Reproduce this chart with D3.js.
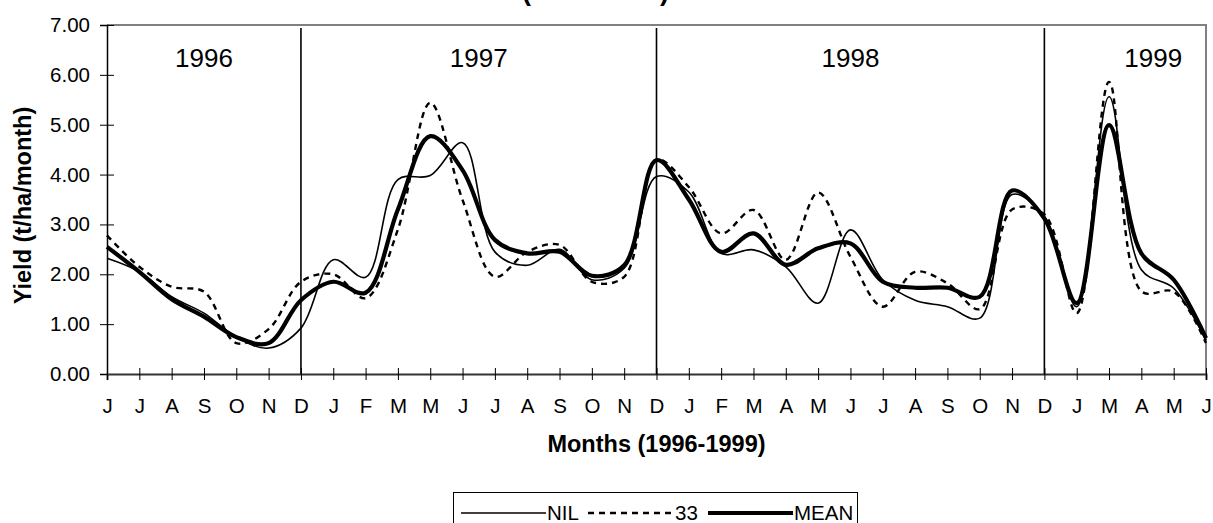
<!DOCTYPE html>
<html>
<head>
<meta charset="utf-8">
<script src="https://cdn.jsdelivr.net/npm/d3@7"></script>
<style>
  html, body { margin: 0; padding: 0; background: #fff; }
  svg { display: block; font-family: Arial, "Liberation Sans", sans-serif; }
</style>
</head>
<body>
<svg id="chart" width="1213" height="523"></svg>
<script>
// Month labels, June 1996 to June 1999
const months = ["J","J","A","S","O","N","D","J","F","M","M","J","J","A","S","O","N","D",
                "J","F","M","A","M","J","J","A","S","O","N","D","J","M","A","M","J"];

// Monthly yield (t/ha/month)
const nil = [2.32,2.05,1.55,1.22,0.74,0.52,0.92,2.29,1.94,3.90,3.98,4.64,2.45,2.18,2.50,1.89,2.12,3.96,
             3.65,2.42,2.49,2.15,1.42,2.89,1.89,1.48,1.35,1.12,3.60,3.15,1.35,5.56,2.09,1.72,0.68];
const t33 = [2.78,2.15,1.75,1.65,0.62,0.90,1.85,2.00,1.52,2.90,5.44,3.49,1.95,2.45,2.59,1.85,1.95,4.30,
             3.75,2.82,3.29,2.29,3.64,2.35,1.35,2.05,1.82,1.30,3.30,3.20,1.22,5.86,1.66,1.65,0.62];
const mean = [2.55,2.05,1.50,1.15,0.74,0.62,1.48,1.85,1.63,3.30,4.77,4.09,2.69,2.42,2.45,1.97,2.18,4.29,
              3.50,2.45,2.82,2.19,2.52,2.62,1.85,1.73,1.73,1.55,3.68,3.12,1.42,4.99,2.42,1.89,0.72];

// Year bands: label and the month index where each band ends (December)
const years = ["1996","1997","1998","1999"];
const yearEnds = [6, 17, 29, 34];
const yTicks = [0,1,2,3,4,5,6,7];

const svg = d3.select("#chart");
const L = 107, R = 1206, T = 25, B = 374;
const FONT = "Arial, 'Liberation Sans', sans-serif";

const x = d3.scalePoint().domain(d3.range(months.length)).range([L, R]);
const y = d3.scaleLinear().domain([0, 7]).range([B, T]);

// Chart title, sitting above the top edge of the page
svg.append("text")
  .attr("x", 669).attr("y", -0.5)
  .attr("text-anchor", "end")
  .attr("font-size", 27).attr("font-weight", "bold")
  .text("(1996-1999)");

// Frame: top and right in grey
svg.append("path")
  .attr("d", `M${L},${T}H${R}V${B}`)
  .attr("fill", "none").attr("stroke", "#808080").attr("stroke-width", 2);

// Y axis
const yAxis = d3.axisLeft(y).tickValues(yTicks).tickFormat(d3.format(".2f")).tickSize(7).tickPadding(10);
const gy = svg.append("g").attr("transform", `translate(${L},0)`).call(yAxis);
gy.select(".domain").attr("stroke", "#000").attr("stroke-width", 1.5);
gy.selectAll(".tick line").attr("x2", 7).attr("x1", -7).attr("stroke", "#000");
gy.selectAll(".tick text").attr("font-size", 20.5).attr("fill", "#000").attr("font-family", FONT);

// X axis
const xAxis = d3.axisBottom(x).tickFormat(i => months[i]).tickSize(6).tickPadding(18);
const gx = svg.append("g").attr("transform", `translate(0,${B})`).call(xAxis);
gx.select(".domain").attr("stroke", "#333").attr("stroke-width", 2);
gx.selectAll(".tick line").attr("y1", -6).attr("y2", 6).attr("stroke", "#000");
gx.selectAll(".tick text").attr("font-size", 20.5).attr("fill", "#000").attr("font-family", FONT);

// Year separators
svg.append("g").selectAll("line")
  .data(yearEnds.slice(0, 3))
  .join("line")
  .attr("x1", d => x(d)).attr("x2", d => x(d))
  .attr("y1", T + 3).attr("y2", B)
  .attr("stroke", "#000").attr("stroke-width", 1.6);

// Year labels centred in each band
svg.append("g").selectAll("text")
  .data(years)
  .join("text")
  .attr("x", (d, i) => {
    const a = i === 0 ? 0 : yearEnds[i - 1];
    const b = yearEnds[i];
    return i === 3 ? (x(a) + x(b)) / 2 + 28 : (x(a) + x(b)) / 2;
  })
  .attr("y", 67)
  .attr("text-anchor", "middle")
  .attr("font-size", 26)
  .text(d => d);

// Series lines
const line = d3.line()
  .x((d, i) => x(i))
  .y(d => y(d))
  .curve(d3.curveCatmullRom.alpha(0.5));

const series = [
  { name: "NIL", values: nil, width: 1.6, dash: null },
  { name: "33", values: t33, width: 2.4, dash: "6,5" },
  { name: "MEAN", values: mean, width: 4.2, dash: null }
];

svg.append("g").selectAll("path")
  .data(series)
  .join("path")
  .attr("d", d => line(d.values))
  .attr("fill", "none")
  .attr("stroke", "#000")
  .attr("stroke-width", d => d.width)
  .attr("stroke-dasharray", d => d.dash)
  .attr("stroke-linejoin", "round");

// Axis titles
svg.append("text")
  .attr("transform", `translate(31,${(T + B) / 2 + 6}) rotate(-90)`)
  .attr("text-anchor", "middle")
  .attr("font-size", 23.5).attr("font-weight", "bold")
  .text("Yield (t/ha/month)");

svg.append("text")
  .attr("x", (L + R) / 2).attr("y", 452)
  .attr("text-anchor", "middle")
  .attr("font-size", 23.5).attr("font-weight", "bold")
  .text("Months (1996-1999)");

// Legend
const lg = svg.append("g");
lg.append("rect")
  .attr("x", 453.5).attr("y", 492.5).attr("width", 404).attr("height", 40)
  .attr("fill", "#fff").attr("stroke", "#000").attr("stroke-width", 1);

const legendItems = [
  { s: series[0], x0: 461, x1: 546, tx: 547 },
  { s: series[1], x0: 588, x1: 675, tx: 675 },
  { s: series[2], x0: 708, x1: 793, tx: 794 }
];
legendItems.forEach(it => {
  lg.append("line")
    .attr("x1", it.x0).attr("x2", it.x1).attr("y1", 513).attr("y2", 513)
    .attr("stroke", "#000").attr("stroke-width", it.s.width)
    .attr("stroke-dasharray", it.s.dash);
  lg.append("text")
    .attr("x", it.tx).attr("y", 520)
    .attr("font-size", 20.5)
    .text(it.s.name);
});
</script>
</body>
</html>
